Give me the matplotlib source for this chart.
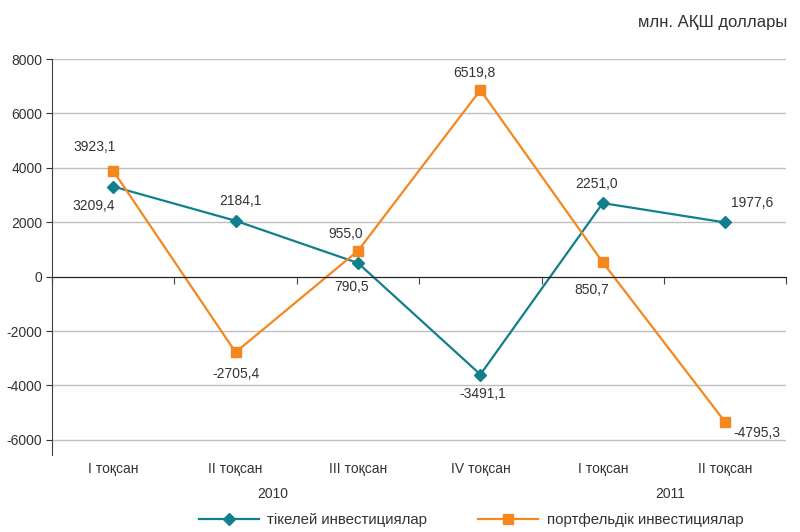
import matplotlib
matplotlib.use('Agg')
import matplotlib.pyplot as plt
import matplotlib.transforms as mtransforms

plt.rcParams['font.family'] = ['Liberation Sans', 'DejaVu Sans']
plt.rcParams['axes.unicode_minus'] = False

quarters = ['I тоқсан', 'II тоқсан', 'III тоқсан', 'IV тоқсан', 'I тоқсан', 'II тоқсан']
years = ['2010', '2011']
# values as drawn in the picture (labels below are the printed numbers)
direct = [3314, 2055, 502, -3596, 2704, 1993]
portfolio = [3890, -2778, 954, 6862, 525, -5347]
direct_labels = ['3209,4', '2184,1', '790,5', '-3491,1', '2251,0', '1977,6']
portfolio_labels = ['3923,1', '-2705,4', '955,0', '6519,8', '850,7', '-4795,3']
series_names = ['тікелей инвестициялар', 'портфельдік инвестициялар']

teal = '#12808c'
orange = '#f5871f'
txt = '#333333'
fs = 10

fig = plt.figure(figsize=(8, 5.32), dpi=100)
ax = fig.add_axes([0.065, 0.145, 0.918, 0.744])

x = list(range(len(quarters)))
ax.plot(x, direct, color=teal, lw=1.6, marker='D', ms=6, label=series_names[0])
ax.plot(x, portfolio, color=orange, lw=1.6, marker='s', ms=7, label=series_names[1])

ax.set_xlim(-0.5, 5.5)
ax.set_ylim(-6550, 8000)
ax.set_yticks(range(-6000, 8001, 2000))
ax.yaxis.grid(True, color='#bfbfbf', lw=1)
ax.set_axisbelow(True)
ax.tick_params(axis='y', direction='out', length=4, labelsize=fs, colors=txt, pad=3)

for s in ['top', 'right']:
    ax.spines[s].set_visible(False)
ax.spines['left'].set_color('#404040')
ax.spines['bottom'].set_position(('data', 0))
ax.spines['bottom'].set_color('#202020')
ax.set_xticks([i - 0.5 for i in range(len(quarters) + 1)])
ax.set_xticklabels([])
ax.tick_params(axis='x', direction='out', length=5, color='#404040')

sec = ax.secondary_xaxis(0.0)
sec.set_xticks(x)
sec.set_xticklabels(quarters)
sec.tick_params(length=0, labelsize=fs, colors=txt, pad=5)
sec.spines['bottom'].set_visible(False)

# data labels: (dx in category units, dy in points)
d_off = [(-0.16, -14), (0.04, 14), (-0.05, -17), (0.02, -14), (-0.05, 14), (0.22, 14)]
p_off = [(-0.15, 17), (0.0, -16), (-0.1, 12), (-0.05, 12), (-0.09, -20), (0.26, -8)]
for i in x:
    ax.annotate(direct_labels[i], (i + d_off[i][0], direct[i]), xytext=(0, d_off[i][1]),
                textcoords='offset points', ha='center', va='center', fontsize=fs, color=txt)
    ax.annotate(portfolio_labels[i], (i + p_off[i][0], portfolio[i]), xytext=(0, p_off[i][1]),
                textcoords='offset points', ha='center', va='center', fontsize=fs, color=txt)

trans = mtransforms.blended_transform_factory(ax.transData, fig.transFigure)
ax.text(1.3, 0.071, years[0], transform=trans, ha='center', va='center', fontsize=fs, color=txt)
ax.text(4.55, 0.071, years[1], transform=trans, ha='center', va='center', fontsize=fs, color=txt)

fig.text(0.984, 0.958, 'млн. АҚШ доллары', ha='right', va='center', fontsize=12, color=txt)

fig.legend(loc='center', bbox_to_anchor=(0.589, 0.022), ncol=2, frameon=False, fontsize=10.8,
           handlelength=4, columnspacing=3.4, handletextpad=0.55, labelcolor=txt)

fig.savefig('out.png', dpi=100)
